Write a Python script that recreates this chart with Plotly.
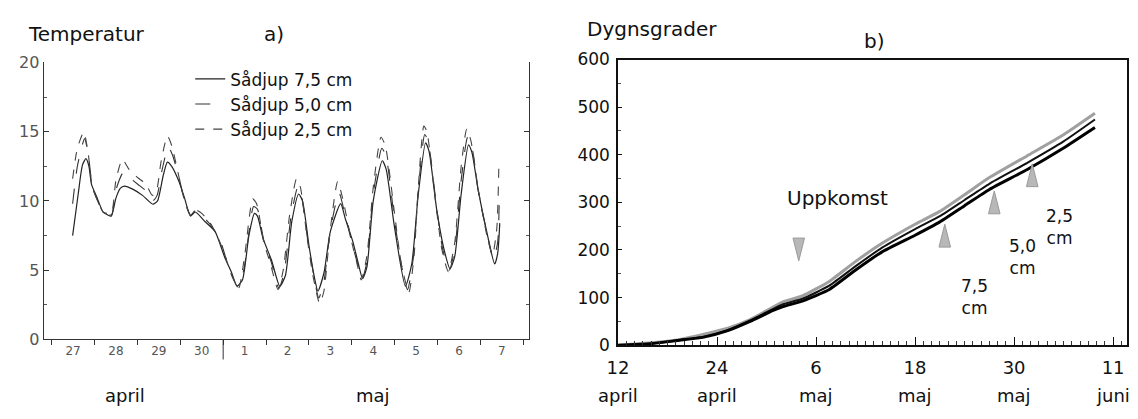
import plotly.graph_objects as go

W, H = 1138, 419
FONT = "DejaVu Sans"

# ---- a) soil temperature at sowing depth, days counted from 27 April 00:00 ----
day_labels = ["27", "28", "29", "30", "1", "2", "3", "4", "5", "6", "7"]

t75 = [0.49, 0.62, 0.72, 0.80, 0.87, 0.93, 1.05, 1.2, 1.3, 1.39, 1.5, 1.6, 1.7, 1.89, 2.12,
       2.36, 2.47, 2.6, 2.7, 2.8, 2.97, 3.1, 3.24, 3.35, 3.58, 3.81, 4.04, 4.2, 4.32, 4.45,
       4.6, 4.73, 4.8, 4.93, 5.13, 5.32, 5.45, 5.6, 5.76, 5.85, 6.0, 6.12, 6.21, 6.35, 6.5,
       6.74, 6.85, 7.02, 7.15, 7.25, 7.35, 7.5, 7.71, 7.8, 8.0, 8.25, 8.4, 8.55, 8.72, 8.8,
       8.98, 9.15, 9.29, 9.4, 9.55, 9.72, 9.8, 9.95, 10.18, 10.33, 10.4, 10.45]
temp75 = [7.5, 10.5, 12.6, 13.05, 12.5, 11.2, 10.3, 9.2, 9.0, 8.9, 10.2, 10.9, 11.07, 10.85, 10.4,
          9.76, 10.0, 11.8, 12.8, 12.5, 11.4, 10.2, 8.9, 9.2, 8.5, 7.8, 5.9, 4.8, 3.85, 4.3,
          7.5, 9.1, 8.9, 7.3, 5.7, 3.85, 4.6, 8.5, 10.5, 10.0, 6.8, 4.6, 3.5, 4.8, 7.8,
          9.8, 8.7, 7.1, 5.5, 4.4, 5.2, 10.0, 12.9, 12.3, 8.0, 3.85, 5.5, 10.5, 14.2, 13.6,
          9.35, 6.5, 5.1, 6.0, 10.5, 14.05, 13.5, 10.7, 7.3, 5.45, 6.2, 8.4]

t50 = [0.49, 0.6, 0.77, 0.87, 0.95, 1.1, 1.2, 1.3, 1.4, 1.5, 1.68, 1.85, 2.05, 2.25, 2.36,
       2.46, 2.58, 2.72, 2.82, 2.97, 3.1, 3.24, 3.35, 3.55, 3.75, 3.95, 4.05, 4.2, 4.34, 4.48,
       4.71, 4.8, 4.95, 5.12, 5.3, 5.42, 5.58, 5.74, 5.82, 5.97, 6.12, 6.23, 6.35, 6.5, 6.7,
       6.82, 7.0, 7.13, 7.24, 7.35, 7.5, 7.7, 7.8, 8.0, 8.18, 8.3, 8.43, 8.55, 8.7, 8.78,
       8.97, 9.12, 9.27, 9.4, 9.55, 9.7, 9.8, 9.95, 10.17, 10.3, 10.4, 10.44]
temp50 = [9.8, 12.5, 14.5, 13.0, 11.0, 9.8, 9.2, 9.0, 9.0, 10.8, 12.1, 11.6, 11.1, 10.6, 10.0,
          10.4, 12.3, 13.9, 13.3, 11.7, 10.0, 8.95, 9.3, 8.8, 8.1, 7.0, 6.0, 4.7, 3.8, 5.0,
          9.6, 9.4, 7.1, 5.6, 3.7, 4.8, 8.8, 11.0, 10.5, 7.2, 4.5, 3.0, 4.2, 7.9, 10.6,
          9.3, 7.0, 5.5, 4.35, 5.6, 10.5, 13.8, 13.2, 8.5, 5.0, 3.6, 5.8, 10.8, 14.8, 14.3,
          9.7, 6.5, 5.0, 6.5, 11.5, 14.6, 13.9, 10.7, 7.4, 5.8, 7.0, 10.5]

t25 = [0.49, 0.6, 0.75, 0.85, 0.95, 1.1, 1.2, 1.3, 1.4, 1.5, 1.65, 1.8, 2.0, 2.2, 2.35,
       2.45, 2.55, 2.7, 2.8, 2.95, 3.1, 3.24, 3.35, 3.5, 3.7, 3.9, 4.05, 4.2, 4.36, 4.5,
       4.69, 4.78, 4.95, 5.1, 5.28, 5.4, 5.55, 5.71, 5.8, 5.95, 6.1, 6.25, 6.35, 6.5, 6.67,
       6.8, 7.0, 7.12, 7.22, 7.35, 7.5, 7.68, 7.78, 8.0, 8.15, 8.33, 8.45, 8.55, 8.68, 8.75,
       8.95, 9.1, 9.25, 9.4, 9.55, 9.68, 9.78, 9.95, 10.15, 10.28, 10.38, 10.43]
temp25 = [11.6, 13.8, 14.96, 13.5, 11.0, 9.8, 9.2, 9.1, 9.2, 11.5, 13.0, 12.3, 11.7, 11.2, 10.4,
          10.8, 12.8, 14.7, 14.0, 12.0, 10.0, 9.0, 9.35, 9.1, 8.4, 7.2, 6.0, 4.6, 3.7, 6.0,
          10.15, 9.8, 7.0, 5.5, 3.6, 5.0, 9.0, 11.6, 11.0, 7.5, 4.5, 2.6, 3.5, 8.0, 11.4,
          10.0, 7.0, 5.5, 4.3, 6.0, 11.0, 14.6, 14.0, 9.0, 5.5, 3.4, 6.0, 11.0, 15.4, 15.0,
          10.0, 6.5, 4.9, 7.0, 12.5, 15.2, 14.3, 10.8, 7.5, 6.1, 8.0, 12.8]

# ---- b) accumulated day-degrees, days counted from 12 April ----
dd_days = [0, 4, 7.2, 10.4, 13.2, 16.0, 18.8, 20.0, 22.4, 25.6, 28.8, 32.0, 36.0, 39.0,
           42.0, 45.0, 49.6, 54.0, 57.8]
dd75 = [0, 3, 10, 17, 30, 50, 73, 81, 93, 117, 158, 196, 231, 259, 293, 327, 369, 414, 457]
dd50 = [0, 3, 10, 18, 31, 52, 76, 86, 98, 125, 166, 205, 244, 271, 305, 339, 383, 428, 474]
dd25 = [0, 5, 11, 23, 35, 54, 80, 91, 104, 134, 176, 214, 254, 281, 316, 352, 398, 442, 487]

b_tick_days = [0, 12, 24, 36, 48, 60]
b_tick_text = ["12", "24", "6", "18", "30", "11"]
b_tick_month = ["april", "april", "maj", "maj", "maj", "juni"]

# emergence markers: day, apex value
emerg_day = [39.6, 45.6, 50.2]
emerg_val = [254, 324, 381]
early_day = [21.9]
early_val = [177]

fig = go.Figure()

fig.add_trace(go.Scatter(x=t75, y=temp75, mode="lines", name="Sådjup 7,5 cm",
                         line=dict(color="#222", width=1.2, shape="spline", smoothing=0.6),
                         xaxis="x", yaxis="y"))
fig.add_trace(go.Scatter(x=t50, y=temp50, mode="lines", name="Sådjup 5,0 cm",
                         line=dict(color="#333", width=1.1, dash="longdash", shape="spline", smoothing=0.6),
                         xaxis="x", yaxis="y"))
fig.add_trace(go.Scatter(x=t25, y=temp25, mode="lines", name="Sådjup 2,5 cm",
                         line=dict(color="#444", width=1.1, dash="dash", shape="spline", smoothing=0.6),
                         xaxis="x", yaxis="y"))

fig.add_trace(go.Scatter(x=dd_days, y=dd25, mode="lines", showlegend=False,
                         line=dict(color="#a0a0a0", width=3, shape="spline", smoothing=0.5),
                         xaxis="x2", yaxis="y2"))
fig.add_trace(go.Scatter(x=dd_days, y=dd50, mode="lines", showlegend=False,
                         line=dict(color="#111", width=2, shape="spline", smoothing=0.5),
                         xaxis="x2", yaxis="y2"))
fig.add_trace(go.Scatter(x=dd_days, y=dd75, mode="lines", showlegend=False,
                         line=dict(color="#000", width=3, shape="spline", smoothing=0.5),
                         xaxis="x2", yaxis="y2"))

# triangle outlines built around each marker value
half_w, tri_h = 0.7, 48
tx, ty = [], []
for d, v in zip(emerg_day, emerg_val):
    tx += [d - half_w, d, d + half_w, d - half_w, None]
    ty += [v - tri_h, v, v - tri_h, v - tri_h, None]
for d, v in zip(early_day, early_val):
    tx += [d - half_w, d, d + half_w, d - half_w, None]
    ty += [v + tri_h, v, v + tri_h, v + tri_h, None]
fig.add_trace(go.Scatter(x=tx, y=ty, mode="lines", fill="toself", showlegend=False,
                         fillcolor="#b8b8b8", line=dict(color="#9a9a9a", width=1),
                         xaxis="x2", yaxis="y2"))

annotations = [
    dict(text="Temperatur", x=15 / W, y=1 - 25 / H, xref="paper", yref="paper",
         xanchor="left", yanchor="middle", showarrow=False, font=dict(size=20, color="#111")),
    dict(text="a)", x=266 / W, y=1 - 25 / H, xref="paper", yref="paper",
         xanchor="center", yanchor="middle", showarrow=False, font=dict(size=20, color="#111")),
    dict(text="Dygnsgrader", x=580 / W, y=1 - 20 / H, xref="paper", yref="paper",
         xanchor="left", yanchor="middle", showarrow=False, font=dict(size=20, color="#111")),
    dict(text="b)", x=872 / W, y=1 - 33 / H, xref="paper", yref="paper",
         xanchor="center", yanchor="middle", showarrow=False, font=dict(size=20, color="#111")),
    dict(text="april", x=1.71, y=1 - 405 / H, xref="x", yref="paper",
         xanchor="center", yanchor="middle", showarrow=False, font=dict(size=18, color="#111")),
    dict(text="maj", x=7.5, y=1 - 405 / H, xref="x", yref="paper",
         xanchor="center", yanchor="middle", showarrow=False, font=dict(size=18, color="#111")),
    dict(text="Uppkomst", x=26.6, y=310, xref="x2", yref="y2",
         xanchor="center", yanchor="middle", showarrow=False, font=dict(size=20, color="#111")),
    dict(text="2,5<br>cm", x=53.5, y=248, xref="x2", yref="y2",
         xanchor="center", yanchor="middle", showarrow=False, font=dict(size=17, color="#111")),
    dict(text="5,0<br>cm", x=49.0, y=186, xref="x2", yref="y2",
         xanchor="center", yanchor="middle", showarrow=False, font=dict(size=17, color="#111")),
    dict(text="7,5<br>cm", x=43.2, y=102, xref="x2", yref="y2",
         xanchor="center", yanchor="middle", showarrow=False, font=dict(size=17, color="#111")),
]
for d, m in zip(b_tick_days, b_tick_month):
    annotations.append(dict(text=m, x=d, y=1 - 405 / H, xref="x2", yref="paper",
                            xanchor="center", yanchor="middle", showarrow=False,
                            font=dict(size=18, color="#111")))

fig.update_layout(
    width=W, height=H,
    margin=dict(l=0, r=0, t=0, b=0),
    paper_bgcolor="white", plot_bgcolor="white",
    font=dict(family=FONT, color="#111"),
    showlegend=True,
    legend=dict(x=181 / W, y=1 - 54 / H, xanchor="left", yanchor="top",
                font=dict(size=17, color="#111"), itemwidth=30,
                bgcolor="rgba(0,0,0,0)", tracegroupgap=0),
    xaxis=dict(domain=[33 / W, 523 / W], range=[-0.185, 11.13], anchor="y",
               tickmode="array", tickvals=[i + 0.5 for i in range(len(day_labels))],
               ticktext=day_labels, ticks="", tickfont=dict(size=12, color="#555"),
               minor=dict(tickmode="array", tickvals=list(range(len(day_labels) + 1)),
                          ticks="outside", ticklen=5, tickcolor="#333"),
               showline=True, linecolor="#333", linewidth=1,
               showgrid=False, zeroline=False),
    yaxis=dict(domain=[1 - 346 / H, 1 - 55 / H], range=[0, 20], anchor="x",
               tickvals=[0, 5, 10, 15, 20], ticks="inside", ticklen=5, tickcolor="#333",
               tickfont=dict(size=16, color="#555"),
               minor=dict(dtick=2.5, ticks="inside", ticklen=3, tickcolor="#555"),
               showline=True, mirror="ticks", linecolor="#333", linewidth=1,
               showgrid=False, zeroline=False),
    xaxis2=dict(domain=[613 / W, 1127 / W], range=[0, 61.7], anchor="y2",
                tickmode="array", tickvals=b_tick_days, ticktext=b_tick_text,
                ticks="inside", ticklen=8, tickcolor="#111", ticklabelstandoff=5,
                tickfont=dict(size=18, color="#111"),
                minor=dict(dtick=1, ticks="inside", ticklen=4, tickcolor="#333"),
                showline=True, mirror=True, linecolor="#111", linewidth=1.5,
                showgrid=False, zeroline=False),
    yaxis2=dict(domain=[1 - 352 / H, 1 - 52 / H], range=[0, 600], anchor="x2",
                dtick=100, ticks="inside", ticklen=4, tickcolor="#111",
                tickfont=dict(size=17, color="#111"), ticklabelstandoff=3,
                minor=dict(dtick=50, ticks="inside", ticklen=3, tickcolor="#555"),
                showline=True, mirror=True, linecolor="#111", linewidth=1.5,
                showgrid=False, zeroline=False),
    annotations=annotations,
    shapes=[dict(type="line", xref="x", yref="paper", x0=4, x1=4,
                 y0=1 - 346 / H, y1=1 - 367 / H, line=dict(color="#333", width=1))],
)

fig.write_html("out.html")
